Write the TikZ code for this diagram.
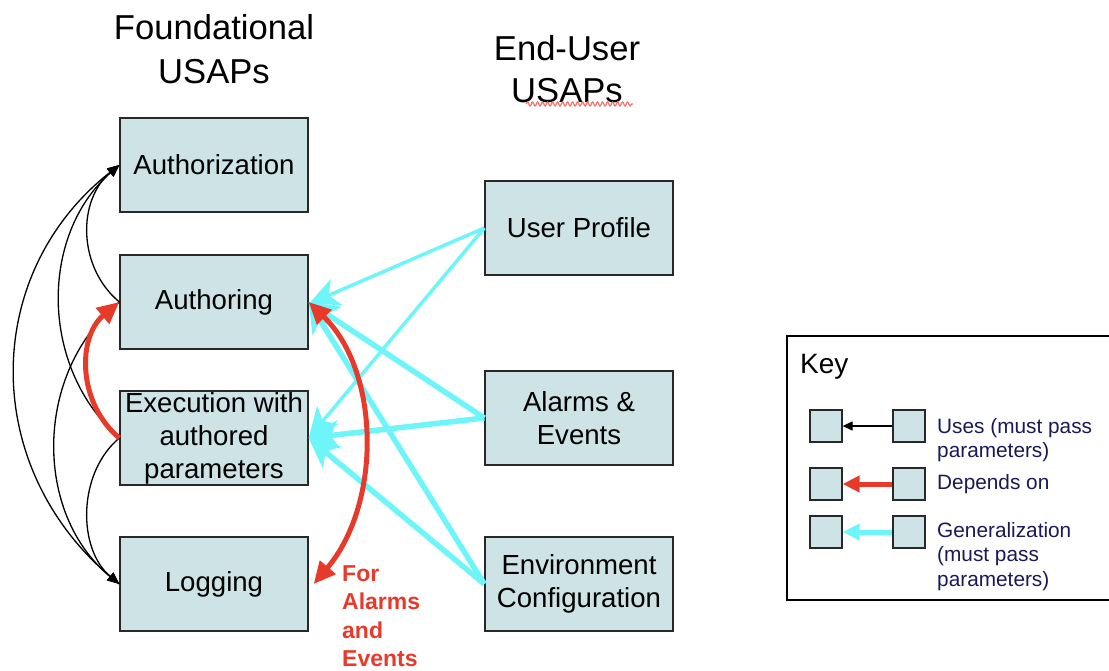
\documentclass[tikz,border=0pt]{standalone}
\usepackage{fontspec}
\setmainfont{Liberation Sans}
\usetikzlibrary{arrows.meta,decorations.pathmorphing}

\definecolor{boxfill}{RGB}{205,227,229}
\definecolor{boxline}{RGB}{40,40,40}
\definecolor{genblue}{RGB}{110,245,250}
\definecolor{depred}{RGB}{232,58,42}
\definecolor{keytext}{RGB}{25,25,85}

\tikzset{
  box/.style={draw=boxline, line width=1.3pt, fill=boxfill, minimum width=188pt,
    minimum height=94pt, inner sep=0pt, align=center,
    font=\fontsize{27.6}{33}\selectfont},
  keysq/.style={draw=boxline, line width=1.3pt, fill=boxfill, minimum size=32pt, inner sep=0pt},
  usesarrow/.style={draw=black, line width=1.3pt, -{Triangle[length=12pt,width=10pt]}},
  dependarrow/.style={draw=depred, line width=5pt, -{Triangle[length=22pt,width=20pt]}},
  genarrow/.style={draw=genblue, line width=5.5pt, -{Stealth[length=30pt,width=28pt,inset=8pt]}},
  heading/.style={align=center, font=\fontsize{34.6}{44}\selectfont},
  keylabel/.style={anchor=north west, align=left, text=keytext, inner sep=0pt,
    font=\fontsize{20.8}{24.5}\selectfont}
}

\begin{document}
\begin{tikzpicture}[x=1pt,y=-1pt]
	\def \lx {214}
	\def \rx {579}
	\useasboundingbox (0,0) rectangle (1109,671);

	% column headings
	\node[heading] (found) at (\lx,49) {Foundational\\USAPs};
	\node[heading, font=\fontsize{34.6}{42}\selectfont] (enduser) at (567,69) {End-User\\USAPs};
	\draw[depred!70, line width=1.2pt, decorate, decoration={snake, amplitude=2pt, segment length=5pt}]
		(526,104) -- (633,104);

	% foundational USAPs
	\node[box] (authz) at (\lx,165) {Authorization};
	\node[box] (authoring) at (\lx,302) {Authoring};
	\node[box] (exec) at (\lx,438) {Execution with\\authored\\parameters};
	\node[box] (logging) at (\lx,584) {Logging};

	% end-user USAPs
	\node[box] (profile) at (\rx,228) {User Profile};
	\node[box] (alarms) at (\rx,418) {Alarms \&\\Events};
	\node[box] (envconf) at (\rx,584) {Environment\\Configuration};

	% uses
	\draw[usesarrow] (authoring.west) .. controls +(-42,-35) and +(-42,35) .. (authz.west);
	\draw[usesarrow] (exec.west) .. controls +(-80,-70) and +(-80,70) .. (authz.west);
	\draw[usesarrow] (logging.west) .. controls +(-140,-110) and +(-140,110) .. (authz.west);
	\draw[usesarrow] (authoring.west) .. controls +(-86,70) and +(-86,-70) .. (logging.west);
	\draw[usesarrow] (exec.west) .. controls +(-42,35) and +(-42,-35) .. (logging.west);

	% generalization
	\draw[genarrow, line width=3.5pt] (profile.west) -- ([yshift=-2pt]authoring.east);
	\draw[genarrow, line width=3.5pt] (profile.west) -- (exec.east);
	\draw[genarrow] (alarms.west) -- (authoring.east);
	\draw[genarrow] (alarms.west) -- (exec.east);
	\draw[genarrow] (envconf.west) -- (authoring.east);
	\draw[genarrow] (envconf.west) -- (exec.east);

	% depends on
	\draw[dependarrow] (exec.west) .. controls +(-42,-35) and +(-42,35) .. (authoring.west);
	\draw[dependarrow, {Triangle[length=22pt,width=20pt]}-{Triangle[length=22pt,width=20pt]}]
		(authoring.east) .. controls +(72,70) and +(68,-80) .. ([xshift=5pt]logging.east);
	\node[anchor=north west, align=left, text=depred, inner sep=0pt,
		font=\bfseries\fontsize{23}{28.5}\selectfont] (forlabel) at (342,565) {For\\Alarms\\and\\Events};

	% key
	\draw[line width=1.2pt] (787,336) rectangle (1112,600);
	\node[anchor=west, inner sep=0pt, font=\fontsize{28}{32}\selectfont] (keytitle) at (800,367) {Key};
	\foreach \y/\n in {426/a, 484/b, 532/c} {
		\node[keysq] (kl\n) at (826,\y) {};
		\node[keysq] (kr\n) at (909,\y) {};
	}
	\draw[usesarrow, -{Triangle[length=10pt,width=9pt]}] (kra.west) -- (kla.east);
	\draw[dependarrow, -{Triangle[length=17pt,width=16pt]}] (krb.west) -- (klb.east);
	\draw[genarrow, line width=5pt, -{Triangle[length=17pt,width=16pt]}] (krc.west) -- (klc.east);
	\node[keylabel] (keyuses) at (937,418) {Uses (must pass\\parameters)};
	\node[keylabel] (keydep) at (937,474) {Depends on};
	\node[keylabel] (keygen) at (937,522) {Generalization\\(must pass\\parameters)};
\end{tikzpicture}
\end{document}
